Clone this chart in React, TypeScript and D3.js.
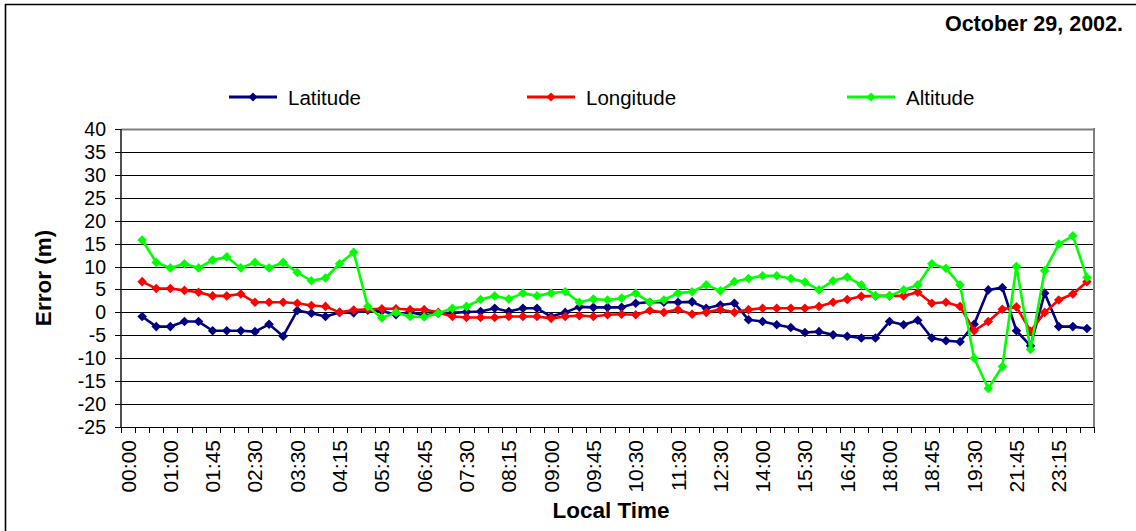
import React from "react";
import * as d3 from "d3";

// Category slots along the time axis; a label is printed on every third slot.
const SLOT_COUNT = 69;
const timeLabels = [
  "00:00", "01:00", "01:45", "02:30", "03:30", "04:15", "05:45", "06:45",
  "07:30", "08:15", "09:00", "09:45", "10:30", "11:30", "12:30", "14:00",
  "15:30", "16:45", "18:00", "18:45", "19:30", "21:45", "23:15",
];

// Position errors in metres, one value per slot (the first slot has no fix).
const latitude: (number | null)[] = [
  null, -0.9, -3.1, -3.1, -2.0, -2.0, -4.0, -4.0, -4.0, -4.2, -2.6, -5.2, 0.4, -0.2, -0.9, 0.0,
  -0.1, 0.5, 0.3, -0.5, 0.1, -0.7, -0.2, -0.1, 0.1, 0.2, 0.9, 0.2, 0.9, 0.9, -0.9, 0.0,
  1.2, 1.1, 1.1, 1.1, 2.0, 2.2, 2.2, 2.2, 2.3, 0.9, 1.6, 2.0, -1.6, -2.0, -2.7, -3.3,
  -4.4, -4.2, -4.9, -5.2, -5.6, -5.6, -2.0, -2.7, -1.7, -5.6, -6.2, -6.4, -2.6, 4.9,
  5.4, -4.0, -7.3, 4.2, -3.1, -3.1, -3.5,
];

const longitude: (number | null)[] = [
  null, 6.7, 5.2, 5.2, 4.8, 4.4, 3.6, 3.6, 4.0, 2.2, 2.2, 2.2, 2.0, 1.5, 1.3, 0.0,
  0.5, 0.7, 0.8, 0.8, 0.6, 0.6, 0.0, -0.9, -1.1, -1.1, -1.1, -0.9, -0.9, -0.9, -1.3, -0.9,
  -0.7, -0.9, -0.5, -0.4, -0.5, 0.4, 0.0, 0.6, -0.4, 0.0, 0.6, 0.0, 0.6, 0.9, 0.9, 0.9,
  0.9, 1.3, 2.2, 2.8, 3.5, 3.6, 3.6, 3.6, 4.4, 2.0, 2.2, 1.3, -4.0, -2.0,
  0.7, 1.2, -4.1, 0.0, 2.7, 4.0, 6.7,
];

const altitude: (number | null)[] = [
  null, 15.8, 10.9, 9.7, 10.6, 9.7, 11.4, 12.1, 9.7, 10.9, 9.7, 10.9, 8.7, 6.9, 7.5, 10.6,
  13.1, 1.3, -1.2, 0.0, -0.9, -1.0, -0.2, 0.9, 1.3, 2.8, 3.6, 2.9, 4.2, 3.6, 4.2, 4.5,
  2.2, 2.9, 2.7, 3.1, 4.2, 2.2, 2.7, 4.2, 4.5, 6.0, 4.7, 6.7, 7.4, 8.0, 8.0, 7.4,
  6.6, 4.9, 6.9, 7.7, 6.0, 3.6, 3.6, 4.9, 6.0, 10.6, 9.6, 6.0, -10.0, -16.6,
  -11.8, 10.0, -8.1, 9.1, 14.9, 16.7, 7.6,
];

const yTicks = [40, 35, 30, 25, 20, 15, 10, 5, 0, -5, -10, -15, -20, -25];

const series = [
  { name: "Latitude", color: "#000080", values: latitude, legendX: 229 },
  { name: "Longitude", color: "#ff0000", values: longitude, legendX: 527 },
  { name: "Altitude", color: "#00ff00", values: altitude, legendX: 847 },
];

const W = 1136;
const H = 531;
const plot = { left: 121, right: 1094, top: 129, bottom: 427 };
const FONT = "Liberation Sans, Arial, Helvetica, sans-serif";

const diamond = (cx: number, cy: number, r: number) =>
  `M${cx},${cy - r}L${cx + r},${cy}L${cx},${cy + r}L${cx - r},${cy}Z`;

export default function App() {
  const slots = d3.range(SLOT_COUNT);
  const x = d3
    .scaleBand<number>()
    .domain(slots)
    .range([plot.left, plot.right])
    .padding(0);
  const y = d3.scaleLinear().domain([-25, 40]).range([plot.bottom, plot.top]);
  const cx = (i: number) => (x(i) ?? 0) + x.bandwidth() / 2;

  const line = d3
    .line<number | null>()
    .defined((d) => d !== null)
    .x((_, i) => cx(i))
    .y((d) => y(d as number));

  const slotEdges = d3.range(SLOT_COUNT + 1).map((i) => plot.left + i * x.bandwidth());

  return (
    <svg
      width={W}
      height={H}
      style={{ position: "absolute", left: 0, top: 0, background: "#fff" }}
      fontFamily={FONT}
    >
      <rect x={0} y={0} width={W} height={H} fill="#fff" />
      {/* outer chart frame */}
      <path d={`M5.5,${H + 2}V4.5H${W + 2}`} fill="none" stroke="#000" strokeWidth={1.6} />

      <text x={1123} y={31} textAnchor="end" fontSize={21.5} fontWeight="bold" fill="#000">
        October 29, 2002.
      </text>

      {/* legend */}
      {series.map((s) => (
        <g key={s.name}>
          <line
            x1={s.legendX}
            x2={s.legendX + 48}
            y1={97}
            y2={97}
            stroke={s.color}
            strokeWidth={3}
          />
          <path d={diamond(s.legendX + 24, 97, 4.5)} fill={s.color} />
          <text x={s.legendX + 59} y={97} dominantBaseline="central" fontSize={20.5} fill="#000">
            {s.name}
          </text>
        </g>
      ))}

      {/* horizontal gridlines */}
      {yTicks.map((t) => (
        <line
          key={`g${t}`}
          x1={plot.left}
          x2={plot.right}
          y1={Math.round(y(t)) + 0.5}
          y2={Math.round(y(t)) + 0.5}
          stroke={t === 40 ? "#808080" : "#000"}
          strokeWidth={t === 40 ? 2 : 1}
        />
      ))}
      {/* right border of the plot area */}
      <line x1={plot.right} x2={plot.right} y1={plot.top - 1} y2={plot.bottom} stroke="#808080" strokeWidth={2} />

      {/* y axis */}
      <line x1={plot.left} x2={plot.left} y1={plot.top} y2={plot.bottom} stroke="#222" strokeWidth={1.6} />
      {yTicks.map((t) => (
        <g key={`yt${t}`}>
          <line
            x1={plot.left - 6}
            x2={plot.left}
            y1={Math.round(y(t)) + 0.5}
            y2={Math.round(y(t)) + 0.5}
            stroke="#000"
          />
          <text
            x={106}
            y={y(t)}
            textAnchor="end"
            dominantBaseline="central"
            fontSize={19.5}
            fill="#000"
          >
            {t}
          </text>
        </g>
      ))}

      {/* x axis */}
      <line x1={plot.left} x2={plot.right} y1={plot.bottom + 0.5} y2={plot.bottom + 0.5} stroke="#000" strokeWidth={1.2} />
      {slotEdges.map((ex, i) => (
        <line
          key={`xt${i}`}
          x1={Math.round(ex) + 0.5}
          x2={Math.round(ex) + 0.5}
          y1={plot.bottom}
          y2={plot.bottom + 6}
          stroke="#000"
        />
      ))}
      {timeLabels.map((lab, k) => {
        const px = cx(k * 3);
        return (
          <text
            key={lab}
            transform={`translate(${px},440) rotate(-90)`}
            textAnchor="end"
            dominantBaseline="central"
            fontSize={21}
            fill="#000"
          >
            {lab}
          </text>
        );
      })}

      {/* axis titles */}
      <text
        transform={`translate(43,${(plot.top + plot.bottom) / 2}) rotate(-90)`}
        textAnchor="middle"
        dominantBaseline="central"
        fontSize={22.5}
        fontWeight="bold"
        fill="#000"
      >
        Error (m)
      </text>
      <text x={611} y={518} textAnchor="middle" fontSize={22.5} fontWeight="bold" fill="#000">
        Local Time
      </text>

      {/* series */}
      {series.map((s) => (
        <g key={`s${s.name}`}>
          <path
            d={line(s.values) ?? ""}
            fill="none"
            stroke={s.color}
            strokeWidth={2.6}
            strokeLinejoin="round"
          />
          {s.values.map((v, i) =>
            v === null ? null : (
              <path key={i} d={diamond(cx(i), y(v), 4.8)} fill={s.color} />
            )
          )}
        </g>
      ))}
    </svg>
  );
}
